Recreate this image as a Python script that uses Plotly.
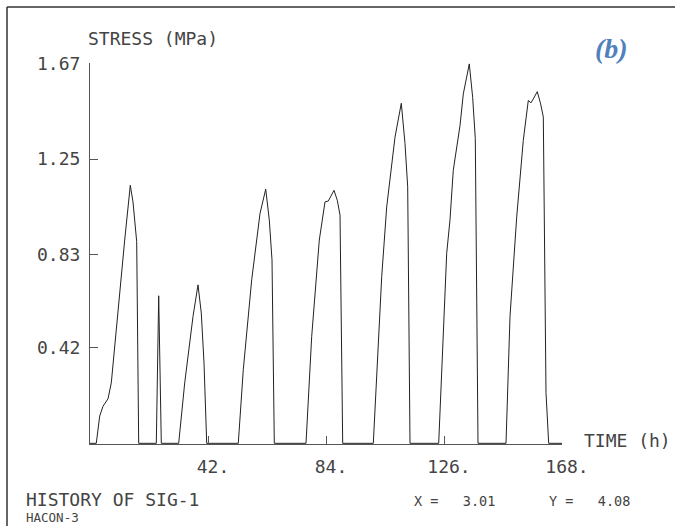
import plotly.graph_objects as go

# Stress history of SIG-1 (time in hours, stress in MPa)
time_h = [
    0.0, 2.24, 3.45, 4.63, 6.41, 7.58, 12.35, 14.34, 15.30, 16.62, 17.33,
    23.6, 24.45, 25.38,
    31.57, 33.71, 36.66, 38.44, 39.61, 40.58, 41.54,
    52.78, 54.56, 57.55, 60.51, 62.54, 63.82, 64.78, 65.6,
    76.88, 78.91, 81.61, 83.64, 84.82, 86.85, 88.02, 88.99, 89.94,
    100.84, 103.83, 105.6, 108.56, 110.8, 112.12, 113.08, 113.9,
    124.11, 126.96, 128.13, 129.3, 131.7, 132.87, 135.0, 136.2, 137.14, 138.1,
    148.07, 149.49, 151.88, 154.22, 156.0, 156.96, 157.78, 159.2, 160.4, 161.35,
    162.3, 163.26, 168.0,
]
stress_mpa = [
    0.0, 0.0, 0.12, 0.163, 0.196, 0.266, 0.894, 1.135, 1.062, 0.887, 0.0,
    0.0, 0.649, 0.0,
    0.0, 0.266, 0.558, 0.697, 0.573, 0.354, 0.0,
    0.0, 0.324, 0.719, 1.011, 1.118, 0.982, 0.807, 0.0,
    0.0, 0.47, 0.894, 1.062, 1.066, 1.113, 1.069, 1.004, 0.0,
    0.0, 0.733, 1.04, 1.347, 1.496, 1.318, 1.128, 0.0,
    0.0, 0.836, 0.982, 1.201, 1.398, 1.537, 1.669, 1.522, 1.34, 0.0,
    0.0, 0.558, 0.996, 1.332, 1.508, 1.498, 1.515, 1.547, 1.493, 1.435,
    0.224, 0.0, 0.0,
]

x_tick_vals = [42, 84, 126, 168]
x_tick_text = ["42.", "84.", "126.", "168."]
y_tick_vals = [0.42, 0.83, 1.25, 1.67]
y_tick_text = ["0.42", "0.83", "1.25", "1.67"]

W, H = 675, 526
L, R, T, B = 90, 562, 63, 444  # plot area in pixels

MONO = "DejaVu Sans Mono"
INK = "#444444"


def px(xp):
    return (xp - L) / (R - L)


def py(yp):
    return (B - yp) / (B - T)


fig = go.Figure()
fig.add_trace(go.Scatter(
    x=time_h, y=stress_mpa, mode="lines",
    line=dict(color="#222222", width=1),
    hoverinfo="skip", showlegend=False,
))

fig.update_layout(
    width=W, height=H,
    margin=dict(l=L, r=W - R, t=T, b=H - B, pad=0),
    paper_bgcolor="white", plot_bgcolor="white",
    showlegend=False,
    xaxis=dict(
        range=[0, 168], showgrid=False, zeroline=False,
        showline=True, linecolor="#555555", linewidth=1,
        ticks="inside", ticklen=8, tickwidth=1, tickcolor="#555555",
        tickvals=x_tick_vals, ticktext=x_tick_text,
        tickfont=dict(family=MONO, size=18, color=INK),
        ticklabelshift=5, ticklabelstandoff=6,
    ),
    yaxis=dict(
        range=[-0.003, 1.673], showgrid=False, zeroline=False,
        showline=True, linecolor="#555555", linewidth=1,
        ticks="inside", ticklen=8, tickwidth=1, tickcolor="#555555",
        tickvals=y_tick_vals, ticktext=y_tick_text,
        tickfont=dict(family=MONO, size=18, color=INK),
        ticklabelstandoff=5,
    ),
)

# Outer frame (left and top edges)
frame = dict(type="line", xref="paper", yref="paper",
             line=dict(color="#333333", width=1.5))
fig.add_shape(x0=px(7), x1=px(7), y0=py(7), y1=py(H + 2), **frame)
fig.add_shape(x0=px(7), x1=px(W + 2), y0=py(7), y1=py(7), **frame)


def label(text, x, y, size, xanchor="left", family=MONO, color=INK, **kw):
    fig.add_annotation(
        text=text, x=px(x), y=py(y), xref="paper", yref="paper",
        xanchor=xanchor, yanchor="middle", showarrow=False,
        font=dict(family=family, size=size, color=color), **kw,
    )


label("STRESS (MPa)", 86, 38, 18)
label("TIME (h)", 582, 440, 18)
label("HISTORY OF SIG-1", 24, 500, 18)
label("HACON-3", 24, 517, 12.5)
label("X =   3.01", 412, 501, 13.5)
label("Y =   4.08", 547, 501, 13.5)
label("<b><i>(b)</i></b>", 611, 48, 28, xanchor="center",
      family="Liberation Serif", color="#4f81bd")

fig.write_html("out.html")
